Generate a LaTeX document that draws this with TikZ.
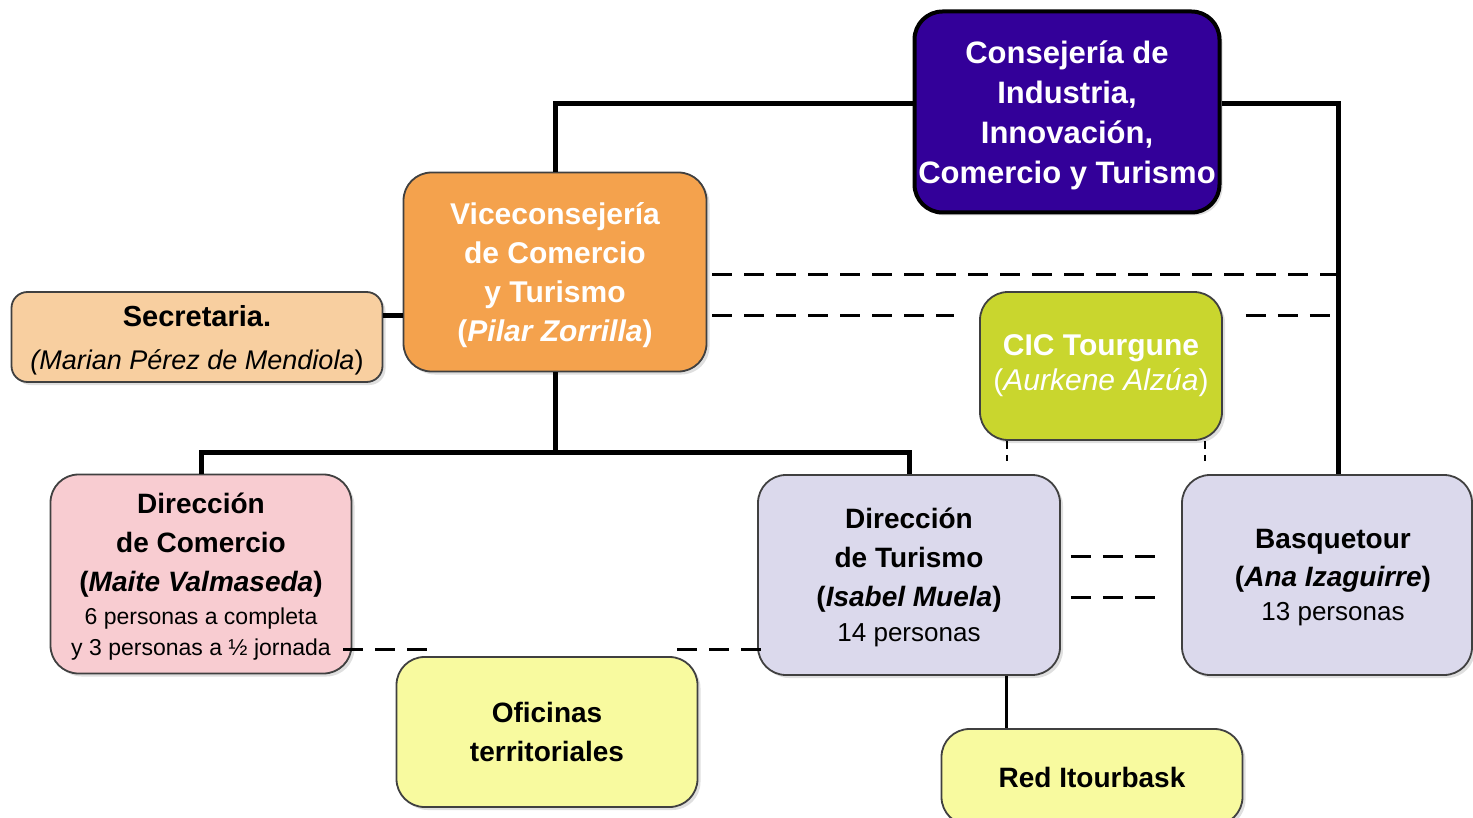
\documentclass[tikz,border=0pt]{standalone}
\usepackage{fontspec}
\setmainfont{Liberation Sans}
\usetikzlibrary{shadows}

\definecolor{consfill}{RGB}{51,0,153}
\definecolor{vicefill}{RGB}{244,162,77}
\definecolor{secrfill}{RGB}{248,207,160}
\definecolor{cicfill}{RGB}{201,214,46}
\definecolor{dcomfill}{RGB}{248,204,209}
\definecolor{lavfill}{RGB}{219,217,236}
\definecolor{yelfill}{RGB}{248,250,159}

\tikzset{every picture/.style={line width=0.75pt}}
\tikzset{
  box/.style={draw=black!75, line width=0.9pt, rounded corners=14pt, align=center, inner sep=0pt,
    drop shadow={opacity=0.25, shadow xshift=1.5pt, shadow yshift=-1.5pt}},
  conn/.style={line width=2.5pt},
  link/.style={line width=1.5pt, dash pattern={on 10pt off 6pt}},
  dotline/.style={line width=0.75pt, dash pattern={on 4pt off 3pt}},
}

\begin{document}
\begin{tikzpicture}[x=0.5pt,y=0.5pt,yscale=-1,xscale=1]
\useasboundingbox (0,0) rectangle (1473,818);

%Shape: Consejeria
\node (cons) at (1067,112) [box, draw=black, line width=2pt, fill=consfill, text=white,
  minimum width=152.5pt, minimum height=100.5pt, text depth=-6pt, font=\fontsize{15.5}{20}\selectfont\bfseries]
  {Consejería de\\Industria,\\Innovación,\\Comercio y Turismo};
%Shape: Viceconsejeria
\node (vice) at (555,272) [box, fill=vicefill, text=white,
  minimum width=151.5pt, minimum height=99.5pt, text depth=-0.8pt, font=\fontsize{15}{19.5}\selectfont\bfseries]
  {Viceconsejería\\de Comercio\\y Turismo\\(\textit{Pilar Zorrilla})};
%Shape: Secretaria
\node (secr) at (197,337) [box, rounded corners=8pt, fill=secrfill,
  minimum width=185.5pt, minimum height=45pt, text depth=-1pt, font=\fontsize{13.5}{21.5}\selectfont]
  {{\fontsize{14.5}{21.5}\selectfont\textbf{Secretaria.}}\\\textit{(Marian Pérez de Mendiola})};
%Shape: CIC Tourgune
\node (cic) at (1101,366) [box, fill=cicfill, text=white,
  minimum width=121pt, minimum height=74pt, font=\fontsize{15}{17.5}\selectfont]
  {\textbf{CIC Tourgune}\\(\textit{Aurkene Alzúa})};
%Shape: Direccion de Comercio
\node (dcom) at (201,574) [box, fill=dcomfill,
  minimum width=150.5pt, minimum height=99.5pt, text depth=-10pt, font=\fontsize{14}{19.5}\selectfont]
  {\textbf{Dirección}\\\textbf{de Comercio}\\\textbf{(\textit{Maite Valmaseda})}\\[-3pt]
   {\fontsize{11.5}{14.5}\selectfont 6 personas a completa}\\[-4pt]
   {\fontsize{11.5}{14.5}\selectfont y 3 personas a ½ jornada}};
%Shape: Direccion de Turismo
\node (dtur) at (909,575) [box, fill=lavfill,
  minimum width=151pt, minimum height=100pt, text depth=-0.8pt, font=\fontsize{14}{19.5}\selectfont]
  {\textbf{Dirección}\\\textbf{de Turismo}\\\textbf{(\textit{Isabel Muela})}\\[-2pt]
   {\fontsize{13}{16}\selectfont 14 personas}};
%Shape: Basquetour
\node (basq) at (1327,575) [box, fill=lavfill,
  minimum width=145pt, minimum height=100pt, text depth=-2.3pt, font=\fontsize{14}{19}\selectfont]
  {\hspace*{6pt}\textbf{Basquetour}\\\hspace*{6pt}\textbf{(\textit{Ana Izaguirre})}\\[-2pt]
   \hspace*{6pt}{\fontsize{13}{16}\selectfont 13 personas}};
%Shape: Oficinas territoriales
\node (ofic) at (547,732) [box, fill=yelfill,
  minimum width=150.5pt, minimum height=75pt, font=\fontsize{14}{19.5}\selectfont\bfseries]
  {Oficinas\\territoriales};
%Shape: Red Itourbask
\node (red) at (1092,777) [box, fill=yelfill,
  minimum width=150.5pt, minimum height=48pt, font=\fontsize{14}{19.5}\selectfont\bfseries]
  {Red Itourbask};

%Coordinates
\coordinate (bus) at (1338,104);
\coordinate (vsplit) at (555,452);
\coordinate (ofl) at (433,649);
\coordinate (ofr) at (677,649);

%Straight Lines: hierarchy
\draw[conn] ([yshift=-4pt]cons.west) -| (vice.north);
\draw[conn] ([yshift=-4pt]cons.east) -| ([xshift=5.5pt]basq.north);
\draw[conn] (vice.south) -- (vsplit);
\draw[conn] (dcom.north) |- (vsplit) -| (dtur.north);
\draw[conn] ([yshift=-10.5pt]secr.east) -- ([yshift=-10.5pt]secr.east -| vice.west);
\draw[line width=1.5pt] ([xshift=48.5pt]dtur.south) -- ([xshift=48.5pt]dtur.south |- red.north);

%Dashed Lines
\draw[link, shorten <=2.5pt] ([yshift=1.5pt]vice.east) -- ([yshift=1.5pt]vice.east -| bus);
\draw[link, shorten <=2.5pt, shorten >=12.5pt] ([yshift=22pt]vice.east) -- ([yshift=22pt]vice.east -| cic.west);
\draw[link, shorten <=11.5pt] ([yshift=22pt]vice.east -| cic.east) -- ([yshift=22pt]vice.east -| bus);
\draw[link, shorten <=5pt, shorten >=11pt] ([yshift=-9.5pt]dtur.east) -- ([yshift=-9.5pt]dtur.east -| basq.west);
\draw[link, shorten <=5pt, shorten >=11pt] ([yshift=11pt]dtur.east) -- ([yshift=11pt]dtur.east -| basq.west);
\draw[link] ([xshift=-4.5pt]dcom.east |- ofl) -- (ofl);
\draw[link] (ofr) -- ([xshift=2pt]dtur.west |- ofr);

%Dotted Lines
\draw[dotline, shorten >=6.5pt] ([xshift=-47pt]cic.south) -- ([xshift=-47pt]cic.south |- dtur.north);
\draw[dotline, shorten >=6.5pt] ([xshift=52pt]cic.south) -- ([xshift=52pt]cic.south |- basq.north);

\end{tikzpicture}
\end{document}
